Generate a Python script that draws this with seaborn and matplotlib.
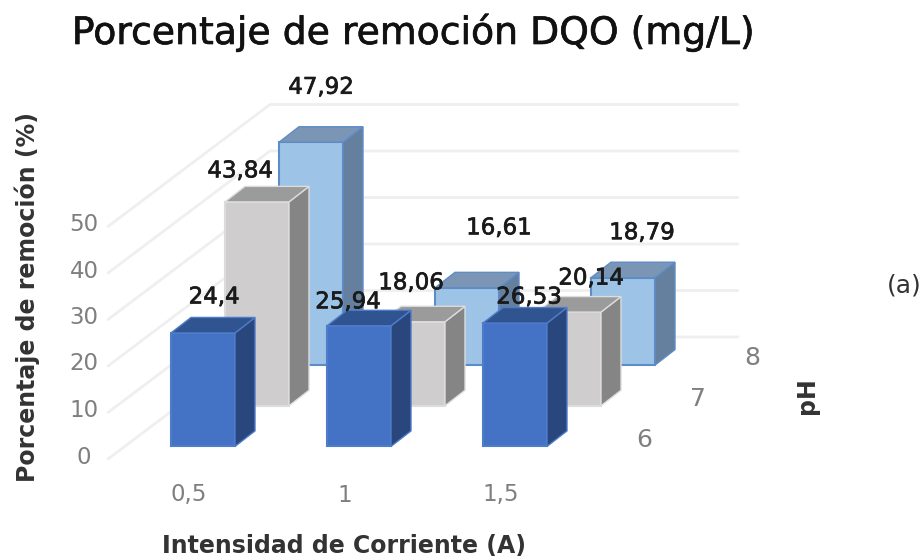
import matplotlib
matplotlib.use("Agg")
import matplotlib.pyplot as plt
import matplotlib.patheffects as pe
from matplotlib.patches import Polygon
import seaborn as sns
import pandas as pd

corriente = ["0,5", "1", "1,5"]
ph_levels = ["6", "7", "8"]
ph6_values = [24.4, 25.94, 26.53]
ph7_values = [43.84, 18.06, 20.14]
ph8_values = [47.92, 16.61, 18.79]
y_ticks = [0, 10, 20, 30, 40, 50]

# pixel offsets of the data labels from the top of their bar (moved by hand in the original)
ph6_label_offsets = [(11, 36), (-11, 24), (14, 26)]
ph7_label_offsets = [(-17, 31), (-2, 39), (22, 34)]
ph8_label_offsets = [(10, 55), (32, 60), (19, 45)]

W, H = 923, 560
X0, Y0 = 108, 459  # front corner of the floor, in pixels
PX_CAT, PX_VAL = 156, 4.65  # pixels per category / per percent
ROW_X, ROW_Y = 54 / PX_CAT, 40.67 / PX_VAL  # shear of one pH row
BAR_X, BAR_Y = 20 / PX_CAT, 15.5 / PX_VAL  # shear of one bar
BAR_W = 64 / PX_CAT

# back row first so the front rows paint over it
rows = [
    (2, ph8_values, ph8_label_offsets, "#9DC3E6", "#7A96B4", "#64809E", "#5D8CC8"),
    (1, ph7_values, ph7_label_offsets, "#CFCDCD", "#9C9B9B", "#858585", "#DDDCDC"),
    (0, ph6_values, ph6_label_offsets, "#4472C4", "#30548F", "#29467D", "#4F7BCB"),
]

sns.set_style("white")
plt.rcParams["font.family"] = ["DejaVu Sans"]

fig = plt.figure(figsize=(W / 100, H / 100), dpi=100)
ax = fig.add_axes([0, 0, 1, 1])
heavy = [pe.withStroke(linewidth=0.5, foreground="#1A1A1A")]


def px_text(x, y, s, **kw):
    return fig.text(x / W, 1 - y / H, s, ha="center", va="center", **kw)


# wall gridlines
for v in y_ticks:
    ax.plot(
        [0, 3 * ROW_X, 3 + 3 * ROW_X],
        [v, v + 3 * ROW_Y, v + 3 * ROW_Y],
        color="#EFEFEF",
        lw=2,
        zorder=0.5,
    )

annotations = []
for d, values, offsets, front, top, side, edge in rows:
    df = pd.DataFrame(
        {
            "pos": [i + 0.5 + ROW_X * (d + 0.5) - BAR_X / 2 for i in range(len(values))],
            "val": values,
        }
    )
    n_before = len(ax.patches)
    sns.barplot(
        data=df,
        x="pos",
        y="val",
        native_scale=True,
        width=BAR_W,
        color=front,
        saturation=1,
        edgecolor=edge,
        linewidth=1.5,
        errorbar=None,
        ax=ax,
    )
    base = ROW_Y * (d + 0.5) - BAR_Y / 2
    for bar, v, off in zip(ax.patches[n_before:], values, offsets):
        bar.set_y(base)
        x0, x1 = bar.get_x(), bar.get_x() + bar.get_width()
        y0, y1 = base, base + v
        ax.add_patch(
            Polygon(
                [(x1, y0), (x1 + BAR_X, y0 + BAR_Y), (x1 + BAR_X, y1 + BAR_Y), (x1, y1)],
                facecolor=side,
                edgecolor=edge,
                lw=1,
            )
        )
        ax.add_patch(
            Polygon(
                [(x0, y1), (x1, y1), (x1 + BAR_X, y1 + BAR_Y), (x0 + BAR_X, y1 + BAR_Y)],
                facecolor=top,
                edgecolor=edge,
                lw=1,
            )
        )
        annotations.append((str(v).replace(".", ","), ((x0 + x1) / 2, y1), off))

for label, xy, off in annotations:
    ax.annotate(
        label,
        xy,
        xytext=off,
        textcoords="offset pixels",
        ha="center",
        va="center",
        fontsize=16.5,
        color="#1A1A1A",
        zorder=5,
        path_effects=heavy,
    )

ax.set_xlim(-X0 / PX_CAT, (W - X0) / PX_CAT)
ax.set_ylim((Y0 - H) / PX_VAL, Y0 / PX_VAL)
ax.set_axis_off()

# tick labels follow the floor and wall of the box
for v in y_ticks:
    ax.text(-24 / PX_CAT, v + 2 / PX_VAL, str(v), ha="center", va="center", fontsize=16.5, color="#7F7F7F")
for i, name in enumerate(corriente):
    ax.text(i + 0.5 + 3 / PX_CAT, -36 / PX_VAL, name, ha="center", va="center", fontsize=16.5, color="#7F7F7F")
for d, name in enumerate(ph_levels):
    ax.text(
        3 + ROW_X * (d + 0.5) + 41 / PX_CAT,
        ROW_Y * (d + 0.5) - 1 / PX_VAL,
        name,
        ha="center",
        va="center",
        fontsize=18,
        color="#7F7F7F",
    )

px_text(413, 33, "Porcentaje de remoción DQO (mg/L)", fontsize=27.2, color="#111111", path_effects=heavy)
px_text(27, 297, "Porcentaje de remoción (%)", fontsize=17, fontweight="bold", rotation=90, color="#333333")
px_text(344, 546, "Intensidad de Corriente (A)", fontsize=17, fontweight="bold", color="#333333")
px_text(807, 396, "pH", fontsize=17, fontweight="bold", rotation=90, color="#333333")
px_text(904, 286, "(a)", fontsize=18, color="#333333")

fig.savefig("out.png", dpi=100)
